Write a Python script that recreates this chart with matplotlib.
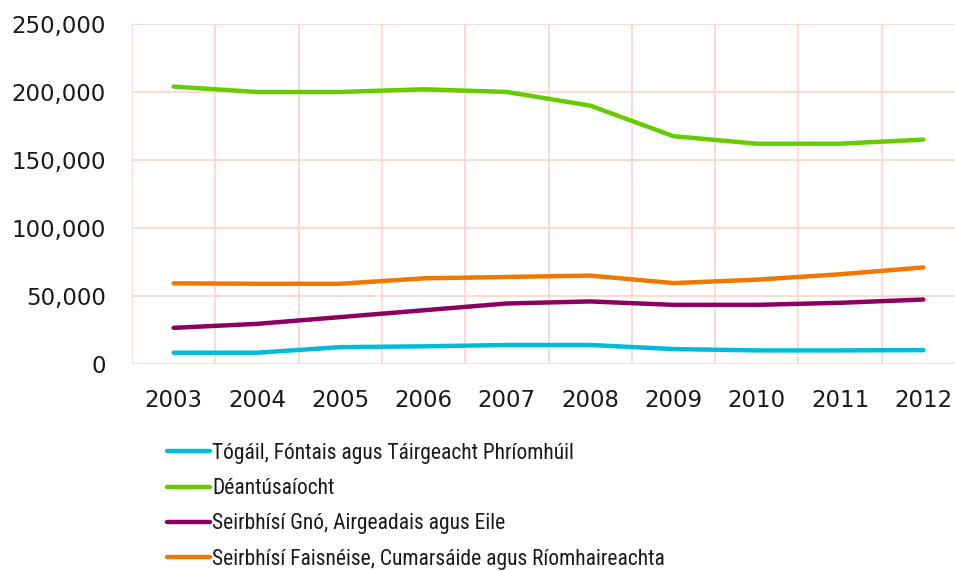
import matplotlib
matplotlib.use("Agg")
from matplotlib import pyplot as plt
from matplotlib.ticker import FuncFormatter

years = ["2003", "2004", "2005", "2006", "2007", "2008", "2009", "2010", "2011", "2012"]
togail = [8300, 8300, 12400, 13000, 14000, 14000, 11000, 10000, 10000, 10200]
deantusaiocht = [204000, 200000, 200000, 202000, 200000, 190000, 167500, 162000, 162000, 165000]
seirbhisi_gno = [26600, 29500, 34500, 39500, 44500, 46000, 43500, 43500, 45000, 47400]
seirbhisi_faisneise = [59300, 59000, 59000, 63000, 64000, 65000, 59500, 62000, 66000, 71000]

labels = ["Tógáil, Fóntais agus Táirgeacht Phríomhúil",
          "Déantúsaíocht",
          "Seirbhísí Gnó, Airgeadais agus Eile",
          "Seirbhísí Faisnéise, Cumarsáide agus Ríomhaireachta"]
colors = ["#00BCD9", "#66CC00", "#8C0062", "#F07800"]

fig = plt.figure(figsize=(9.55, 5.71), dpi=100)
ax = fig.add_axes([0.1382, 0.3625, 0.8723, 0.5955])

x = list(range(len(years)))
for vals, lab, c in zip([togail, deantusaiocht, seirbhisi_gno, seirbhisi_faisneise], labels, colors):
    ax.plot(x, vals, color=c, lw=3.2, solid_capstyle="round", solid_joinstyle="round", label=lab)

ax.set_xlim(-0.5, len(years) - 0.5)
ax.set_ylim(0, 250000)
ax.set_yticks(range(0, 250001, 50000))
ax.yaxis.set_major_formatter(FuncFormatter(lambda v, p: f"{int(v):,}"))
ax.set_xticks(x)
ax.set_xticklabels(years)
ax.set_xticks([i - 0.5 for i in range(len(years) + 1)], minor=True)

grid_c = "#FCD6C8"
ax.grid(False)
ax.xaxis.grid(True, which="minor", color=grid_c, lw=1.2)
ax.yaxis.grid(True, which="major", color=grid_c, lw=1.2)
ax.set_axisbelow(True)
for s in ax.spines.values():
    s.set_visible(False)
ax.tick_params(which="both", length=0)
ax.tick_params(axis="y", labelsize=16.5, pad=19, labelcolor="#1a1a1a")
ax.tick_params(axis="x", labelsize=16.5, pad=18, labelcolor="#1a1a1a")

leg = fig.legend(loc="upper left", bbox_to_anchor=(167 / 955, 1 - 443 / 571), frameon=False,
                 prop={"family": ["Roboto Condensed", "DejaVu Sans"], "size": 15.5, "stretch": "condensed"},
                 handlelength=2.0, handletextpad=0.1, borderpad=0, borderaxespad=0,
                 labelspacing=0.66)
for t in leg.get_texts():
    t.set_color("#1a1a1a")

fig.savefig("out.png", dpi=100)
